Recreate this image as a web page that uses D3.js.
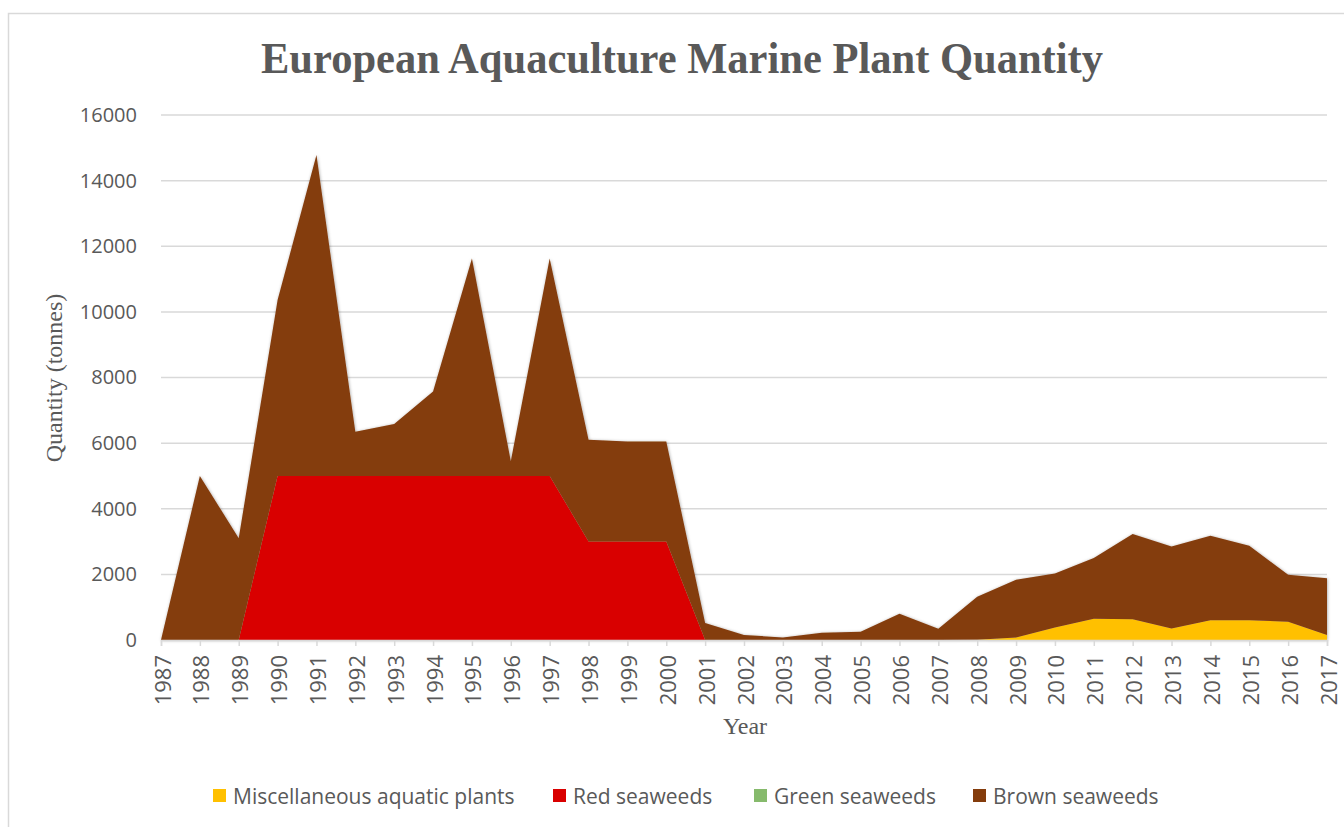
<!DOCTYPE html>
<html>
<head>
<meta charset="utf-8">
<script src="https://cdn.jsdelivr.net/npm/d3@7"></script>
<style>
  html, body { margin: 0; padding: 0; background: #fff; }
  svg { display: block; }
</style>
</head>
<body>
<svg id="chart" width="1344" height="827"></svg>
<script>
// European aquaculture production of marine plants, tonnes per year
const years = d3.range(1987, 2018);
const miscAquaticPlants = [0,0,0,0,0,0,0,0,0,0,0,0,0,0,0,0,0,0,0,0,0,10,80,380,650,630,350,600,600,560,150];
const redSeaweeds       = [0,0,0,5000,5000,5000,5000,5000,5000,5000,5000,3000,3000,3000,0,0,0,0,0,0,0,0,0,0,0,0,0,0,0,0,0];
const greenSeaweeds     = [0,0,0,0,0,0,0,0,0,0,0,0,0,0,0,0,0,0,0,0,0,0,0,0,0,0,0,0,0,0,0];
const brownSeaweeds     = [0,5000,3100,5360,9780,1350,1580,2570,6630,450,6630,3100,3050,3050,520,150,80,220,250,800,340,1310,1760,1650,1850,2600,2500,2580,2270,1430,1730];
const yTicks = [0,2000,4000,6000,8000,10000,12000,14000,16000];

const seriesNames  = ["Miscellaneous aquatic plants","Red seaweeds","Green seaweeds","Brown seaweeds"];
const seriesKeys   = ["misc","red","green","brown"];
const seriesColors = ["#FFC000","#D90000","#86BA6C","#843C0C"];

const rows = years.map((y, i) => ({
  year: y,
  misc: miscAquaticPlants[i],
  red: redSeaweeds[i],
  green: greenSeaweeds[i],
  brown: brownSeaweeds[i]
}));

const svg = d3.select("#chart");
const textGray = "#595959";
const gridGray = "#d9d9d9";
const sansFont = "'Open Sans', 'Liberation Sans', sans-serif";
const serifFont = "'Liberation Serif', 'Times New Roman', serif";

// outer chart frame
svg.append("rect")
  .attr("x", 8.5).attr("y", 13.5)
  .attr("width", 1400).attr("height", 900)
  .attr("fill", "none").attr("stroke", gridGray).attr("stroke-width", 1.5);

const x = d3.scaleLinear().domain([1987, 2017]).range([161, 1327]);
const y = d3.scaleLinear().domain([0, 16000]).range([640, 115]);

// soft shadow around the filled areas
const defs = svg.append("defs");
const f = defs.append("filter").attr("id", "areaShadow")
  .attr("x", "-5%").attr("y", "-5%").attr("width", "110%").attr("height", "110%");
f.append("feDropShadow").attr("dx", 0.5).attr("dy", 0.5)
  .attr("stdDeviation", 1.6).attr("flood-color", "#000").attr("flood-opacity", 0.35);

// horizontal gridlines
svg.append("g")
  .selectAll("line")
  .data(yTicks.filter(d => d > 0))
  .join("line")
  .attr("x1", 161).attr("x2", 1327)
  .attr("y1", d => y(d)).attr("y2", d => y(d))
  .attr("stroke", gridGray).attr("stroke-width", 1.5);

// stacked areas
const stack = d3.stack().keys(seriesKeys);
const layers = stack(rows);
const area = d3.area()
  .x(d => x(d.data.year))
  .y0(d => y(d[0]))
  .y1(d => y(d[1]));

svg.append("g")
  .attr("filter", "url(#areaShadow)")
  .selectAll("path")
  .data(layers)
  .join("path")
  .attr("d", area)
  .attr("fill", (d, i) => seriesColors[i]);

// y axis labels
const yAxis = d3.axisLeft(y).tickValues(yTicks).tickSize(0).tickPadding(24).tickFormat(d3.format("d"));
const gy = svg.append("g").attr("transform", "translate(161,0)").call(yAxis);
gy.select(".domain").remove();
gy.selectAll("text")
  .attr("fill", textGray)
  .style("font-family", sansFont)
  .style("font-size", "20px");

// x axis with rotated year labels
const xAxis = d3.axisBottom(x).tickValues(years).tickSize(6).tickPadding(0).tickFormat(d3.format("d"));
const gx = svg.append("g").attr("transform", "translate(0,640)").call(xAxis);
gx.select(".domain").attr("stroke", gridGray).attr("stroke-width", 1.5);
gx.selectAll(".tick line").attr("stroke", gridGray).attr("stroke-width", 1.5);
gx.selectAll("text")
  .attr("fill", textGray)
  .style("font-family", sansFont)
  .style("font-size", "22px")
  .attr("text-anchor", "end")
  .attr("dominant-baseline", "central")
  .attr("dy", null)
  .attr("y", 0)
  .attr("transform", "translate(0,15) rotate(-90)");

// title
const title = svg.append("text")
  .attr("x", 682).attr("y", 73)
  .attr("text-anchor", "middle")
  .attr("fill", textGray)
  .style("font-family", serifFont)
  .style("font-weight", "bold")
  .style("font-size", "44px")
  .text("European Aquaculture Marine Plant Quantity");
title.attr("textLength", 842).attr("lengthAdjust", "spacingAndGlyphs");

// axis titles
svg.append("text")
  .attr("x", 745).attr("y", 734)
  .attr("text-anchor", "middle")
  .attr("fill", textGray)
  .style("font-family", serifFont)
  .style("font-size", "24px")
  .text("Year");

svg.append("text")
  .attr("transform", "translate(62,378) rotate(-90)")
  .attr("text-anchor", "middle")
  .attr("fill", textGray)
  .style("font-family", serifFont)
  .style("font-size", "24px")
  .text("Quantity (tonnes)");

// legend
const legendX = [213, 553, 754, 973];
const legend = svg.append("g");
seriesNames.forEach((name, i) => {
  const g = legend.append("g").attr("transform", `translate(${legendX[i]},796)`);
  g.append("rect").attr("x", 0).attr("y", -7).attr("width", 13).attr("height", 13)
    .attr("fill", seriesColors[i]);
  g.append("text").attr("x", 20).attr("y", 0)
    .attr("dominant-baseline", "central")
    .attr("fill", textGray)
    .style("font-family", sansFont)
    .style("font-size", "21px")
    .text(name);
});
</script>
</body>
</html>
